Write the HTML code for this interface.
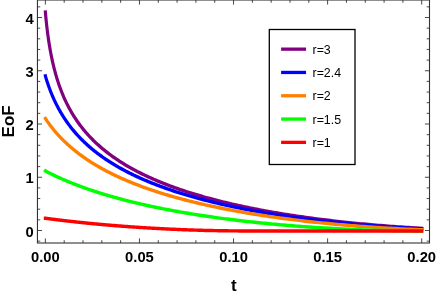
<!DOCTYPE html>
<html><head><meta charset="utf-8"><title>EoF</title>
<style>
html,body{margin:0;padding:0;background:#fff;}
body{width:436px;height:292px;overflow:hidden;}
svg{display:block;font-family:"Liberation Sans",sans-serif;}
text{-webkit-font-smoothing:antialiased;}
body{will-change:transform;}
</style></head><body>
<svg width="436" height="292" viewBox="0 0 436 292">
<rect width="436" height="292" fill="#fff"/>
<g transform="scale(0.92,1)" fill="none" stroke-width="3.45" stroke-linecap="square" stroke-linejoin="round">
<path d="M49.32,12.12 L49.33,12.31 L49.38,12.79 L49.45,13.50 L49.54,14.43 L49.65,15.53 L49.78,16.80 L49.93,18.22 L50.10,19.76 L50.28,21.42 L50.48,23.17 L50.70,25.01 L50.94,26.91 L51.19,28.88 L51.46,30.89 L51.74,32.94 L52.04,35.02 L52.35,37.12 L52.68,39.24 L53.03,41.37 L53.39,43.50 L53.76,45.63 L54.15,47.76 L54.55,49.88 L54.97,51.99 L55.40,54.08 L55.84,56.16 L56.30,58.22 L56.78,60.26 L57.26,62.29 L57.76,64.29 L58.28,66.27 L58.80,68.23 L59.34,70.16 L59.90,72.07 L60.46,73.96 L61.04,75.82 L61.64,77.66 L62.24,79.48 L62.86,81.27 L63.49,83.04 L64.14,84.78 L64.79,86.50 L65.46,88.20 L66.14,89.87 L66.84,91.53 L67.55,93.16 L68.27,94.77 L69.00,96.35 L69.74,97.92 L70.50,99.47 L71.27,100.99 L72.05,102.49 L72.84,103.98 L73.65,105.44 L74.46,106.89 L75.29,108.32 L76.13,109.73 L76.99,111.12 L77.85,112.49 L78.73,113.85 L79.62,115.19 L80.52,116.51 L81.43,117.81 L82.35,119.10 L83.29,120.38 L84.23,121.63 L85.19,122.88 L86.16,124.11 L87.14,125.32 L88.13,126.52 L89.14,127.70 L90.15,128.87 L91.18,130.03 L92.22,131.18 L93.27,132.31 L94.33,133.43 L95.40,134.53 L96.48,135.62 L97.57,136.71 L98.68,137.77 L99.80,138.83 L100.92,139.88 L102.06,140.91 L103.21,141.94 L104.37,142.95 L105.54,143.95 L106.73,144.94 L107.92,145.92 L109.12,146.89 L110.34,147.85 L111.56,148.80 L112.80,149.74 L114.05,150.67 L115.31,151.60 L116.58,152.51 L117.85,153.41 L119.15,154.31 L120.45,155.19 L121.76,156.07 L123.08,156.93 L124.41,157.79 L125.76,158.65 L127.11,159.49 L128.48,160.32 L129.85,161.15 L131.24,161.97 L132.63,162.78 L134.04,163.58 L135.46,164.38 L136.89,165.17 L138.32,165.95 L139.77,166.72 L141.23,167.49 L142.70,168.25 L144.18,169.00 L145.67,169.75 L147.17,170.49 L148.68,171.22 L150.20,171.94 L151.73,172.66 L153.28,173.38 L154.83,174.08 L156.39,174.78 L157.96,175.48 L159.54,176.16 L161.14,176.84 L162.74,177.52 L164.35,178.19 L165.97,178.85 L167.61,179.51 L169.25,180.16 L170.90,180.81 L172.56,181.45 L174.24,182.08 L175.92,182.71 L177.61,183.34 L179.32,183.96 L181.03,184.57 L182.75,185.18 L184.49,185.78 L186.23,186.38 L187.98,186.97 L189.74,187.56 L191.52,188.14 L193.30,188.71 L195.09,189.29 L196.89,189.85 L198.71,190.42 L200.53,190.97 L202.36,191.53 L204.20,192.07 L206.05,192.62 L207.91,193.16 L209.78,193.69 L211.66,194.22 L213.55,194.74 L215.45,195.26 L217.36,195.78 L219.28,196.29 L221.21,196.80 L223.15,197.30 L225.10,197.80 L227.06,198.29 L229.03,198.78 L231.00,199.27 L232.99,199.75 L234.99,200.23 L236.99,200.70 L239.01,201.17 L241.03,201.63 L243.07,202.09 L245.11,202.55 L247.17,203.00 L249.23,203.45 L251.30,203.89 L253.38,204.33 L255.48,204.77 L257.58,205.20 L259.69,205.63 L261.81,206.05 L263.94,206.47 L266.08,206.89 L268.22,207.30 L270.38,207.71 L272.55,208.12 L274.73,208.52 L276.91,208.92 L279.11,209.31 L281.31,209.70 L283.53,210.09 L285.75,210.47 L287.98,210.85 L290.23,211.23 L292.48,211.60 L294.74,211.97 L297.01,212.33 L299.29,212.69 L301.58,213.05 L303.87,213.40 L306.18,213.75 L308.50,214.10 L310.82,214.44 L313.16,214.78 L315.50,215.12 L317.86,215.45 L320.22,215.78 L322.59,216.11 L324.97,216.43 L327.36,216.75 L329.76,217.07 L332.17,217.38 L334.59,217.69 L337.01,217.99 L339.45,218.29 L341.89,218.59 L344.35,218.89 L346.81,219.18 L349.28,219.47 L351.76,219.75 L354.25,220.03 L356.75,220.31 L359.26,220.58 L361.78,220.86 L364.31,221.12 L366.84,221.39 L369.39,221.65 L371.94,221.91 L374.50,222.16 L377.08,222.41 L379.66,222.66 L382.25,222.90 L384.85,223.14 L387.45,223.38 L390.07,223.62 L392.70,223.85 L395.33,224.07 L397.97,224.30 L400.63,224.52 L403.29,224.74 L405.96,224.95 L408.64,225.16 L411.33,225.37 L414.02,225.57 L416.73,225.77 L419.44,225.97 L422.17,226.16 L424.90,226.35 L427.64,226.54 L430.39,226.72 L433.15,226.90 L435.92,227.07 L438.70,227.25 L441.48,227.42 L444.28,227.58 L447.08,227.74 L449.89,227.90 L452.71,228.06 L455.54,228.21 L458.38,228.35" stroke="#800080"/>
<path d="M49.32,75.99 L49.33,76.05 L49.38,76.20 L49.45,76.41 L49.54,76.70 L49.65,77.04 L49.78,77.44 L49.93,77.89 L50.10,78.40 L50.28,78.95 L50.48,79.55 L50.70,80.19 L50.94,80.87 L51.19,81.59 L51.46,82.34 L51.74,83.12 L52.04,83.94 L52.35,84.78 L52.68,85.65 L53.03,86.54 L53.39,87.46 L53.76,88.40 L54.15,89.35 L54.55,90.33 L54.97,91.32 L55.40,92.32 L55.84,93.34 L56.30,94.37 L56.78,95.40 L57.26,96.45 L57.76,97.51 L58.28,98.57 L58.80,99.64 L59.34,100.71 L59.90,101.79 L60.46,102.87 L61.04,103.95 L61.64,105.03 L62.24,106.12 L62.86,107.20 L63.49,108.29 L64.14,109.37 L64.79,110.45 L65.46,111.53 L66.14,112.61 L66.84,113.68 L67.55,114.76 L68.27,115.82 L69.00,116.89 L69.74,117.95 L70.50,119.01 L71.27,120.06 L72.05,121.10 L72.84,122.15 L73.65,123.18 L74.46,124.21 L75.29,125.24 L76.13,126.26 L76.99,127.27 L77.85,128.28 L78.73,129.28 L79.62,130.27 L80.52,131.26 L81.43,132.25 L82.35,133.22 L83.29,134.19 L84.23,135.16 L85.19,136.11 L86.16,137.06 L87.14,138.01 L88.13,138.94 L89.14,139.87 L90.15,140.80 L91.18,141.71 L92.22,142.62 L93.27,143.53 L94.33,144.43 L95.40,145.32 L96.48,146.20 L97.57,147.08 L98.68,147.95 L99.80,148.81 L100.92,149.67 L102.06,150.52 L103.21,151.37 L104.37,152.21 L105.54,153.04 L106.73,153.87 L107.92,154.68 L109.12,155.50 L110.34,156.31 L111.56,157.11 L112.80,157.90 L114.05,158.69 L115.31,159.47 L116.58,160.25 L117.85,161.02 L119.15,161.79 L120.45,162.55 L121.76,163.30 L123.08,164.05 L124.41,164.79 L125.76,165.52 L127.11,166.25 L128.48,166.98 L129.85,167.70 L131.24,168.41 L132.63,169.12 L134.04,169.82 L135.46,170.52 L136.89,171.21 L138.32,171.90 L139.77,172.58 L141.23,173.26 L142.70,173.93 L144.18,174.59 L145.67,175.25 L147.17,175.91 L148.68,176.56 L150.20,177.20 L151.73,177.84 L153.28,178.48 L154.83,179.11 L156.39,179.74 L157.96,180.36 L159.54,180.97 L161.14,181.58 L162.74,182.19 L164.35,182.79 L165.97,183.39 L167.61,183.98 L169.25,184.57 L170.90,185.15 L172.56,185.73 L174.24,186.31 L175.92,186.87 L177.61,187.44 L179.32,188.00 L181.03,188.56 L182.75,189.11 L184.49,189.66 L186.23,190.20 L187.98,190.74 L189.74,191.28 L191.52,191.81 L193.30,192.33 L195.09,192.86 L196.89,193.37 L198.71,193.89 L200.53,194.40 L202.36,194.91 L204.20,195.41 L206.05,195.91 L207.91,196.40 L209.78,196.89 L211.66,197.38 L213.55,197.86 L215.45,198.34 L217.36,198.81 L219.28,199.28 L221.21,199.75 L223.15,200.21 L225.10,200.67 L227.06,201.13 L229.03,201.58 L231.00,202.03 L232.99,202.47 L234.99,202.91 L236.99,203.35 L239.01,203.78 L241.03,204.21 L243.07,204.64 L245.11,205.06 L247.17,205.48 L249.23,205.89 L251.30,206.31 L253.38,206.71 L255.48,207.12 L257.58,207.52 L259.69,207.92 L261.81,208.31 L263.94,208.70 L266.08,209.09 L268.22,209.47 L270.38,209.85 L272.55,210.23 L274.73,210.60 L276.91,210.97 L279.11,211.34 L281.31,211.70 L283.53,212.06 L285.75,212.41 L287.98,212.77 L290.23,213.12 L292.48,213.46 L294.74,213.81 L297.01,214.14 L299.29,214.48 L301.58,214.81 L303.87,215.14 L306.18,215.47 L308.50,215.79 L310.82,216.11 L313.16,216.43 L315.50,216.74 L317.86,217.05 L320.22,217.36 L322.59,217.66 L324.97,217.96 L327.36,218.26 L329.76,218.55 L332.17,218.84 L334.59,219.13 L337.01,219.41 L339.45,219.69 L341.89,219.97 L344.35,220.24 L346.81,220.51 L349.28,220.78 L351.76,221.04 L354.25,221.30 L356.75,221.56 L359.26,221.82 L361.78,222.07 L364.31,222.32 L366.84,222.56 L369.39,222.80 L371.94,223.04 L374.50,223.28 L377.08,223.51 L379.66,223.74 L382.25,223.96 L384.85,224.18 L387.45,224.40 L390.07,224.62 L392.70,224.83 L395.33,225.04 L397.97,225.25 L400.63,225.45 L403.29,225.65 L405.96,225.84 L408.64,226.04 L411.33,226.23 L414.02,226.41 L416.73,226.59 L419.44,226.77 L422.17,226.95 L424.90,227.12 L427.64,227.29 L430.39,227.46 L433.15,227.62 L435.92,227.78 L438.70,227.93 L441.48,228.09 L444.28,228.23 L447.08,228.38 L449.89,228.52 L452.71,228.66 L455.54,228.79 L458.38,228.92" stroke="#0000ff"/>
<path d="M49.32,118.50 L49.33,118.52 L49.38,118.59 L49.45,118.68 L49.54,118.81 L49.65,118.96 L49.78,119.14 L49.93,119.35 L50.10,119.58 L50.28,119.83 L50.48,120.10 L50.70,120.40 L50.94,120.71 L51.19,121.05 L51.46,121.40 L51.74,121.78 L52.04,122.16 L52.35,122.57 L52.68,122.99 L53.03,123.43 L53.39,123.89 L53.76,124.35 L54.15,124.84 L54.55,125.33 L54.97,125.84 L55.40,126.36 L55.84,126.89 L56.30,127.43 L56.78,127.98 L57.26,128.54 L57.76,129.11 L58.28,129.69 L58.80,130.28 L59.34,130.87 L59.90,131.48 L60.46,132.09 L61.04,132.71 L61.64,133.33 L62.24,133.96 L62.86,134.59 L63.49,135.23 L64.14,135.88 L64.79,136.53 L65.46,137.18 L66.14,137.83 L66.84,138.49 L67.55,139.16 L68.27,139.82 L69.00,140.49 L69.74,141.16 L70.50,141.83 L71.27,142.51 L72.05,143.18 L72.84,143.86 L73.65,144.54 L74.46,145.22 L75.29,145.90 L76.13,146.58 L76.99,147.26 L77.85,147.94 L78.73,148.62 L79.62,149.30 L80.52,149.98 L81.43,150.66 L82.35,151.34 L83.29,152.01 L84.23,152.69 L85.19,153.36 L86.16,154.04 L87.14,154.71 L88.13,155.38 L89.14,156.05 L90.15,156.72 L91.18,157.39 L92.22,158.05 L93.27,158.71 L94.33,159.37 L95.40,160.03 L96.48,160.69 L97.57,161.34 L98.68,161.99 L99.80,162.64 L100.92,163.29 L102.06,163.93 L103.21,164.57 L104.37,165.21 L105.54,165.85 L106.73,166.48 L107.92,167.12 L109.12,167.74 L110.34,168.37 L111.56,168.99 L112.80,169.61 L114.05,170.23 L115.31,170.84 L116.58,171.45 L117.85,172.06 L119.15,172.67 L120.45,173.27 L121.76,173.87 L123.08,174.47 L124.41,175.06 L125.76,175.65 L127.11,176.23 L128.48,176.82 L129.85,177.40 L131.24,177.98 L132.63,178.55 L134.04,179.12 L135.46,179.69 L136.89,180.25 L138.32,180.82 L139.77,181.37 L141.23,181.93 L142.70,182.48 L144.18,183.03 L145.67,183.58 L147.17,184.12 L148.68,184.66 L150.20,185.19 L151.73,185.73 L153.28,186.26 L154.83,186.78 L156.39,187.30 L157.96,187.82 L159.54,188.34 L161.14,188.85 L162.74,189.36 L164.35,189.87 L165.97,190.38 L167.61,190.88 L169.25,191.37 L170.90,191.87 L172.56,192.36 L174.24,192.85 L175.92,193.33 L177.61,193.81 L179.32,194.29 L181.03,194.76 L182.75,195.24 L184.49,195.71 L186.23,196.17 L187.98,196.63 L189.74,197.09 L191.52,197.55 L193.30,198.00 L195.09,198.45 L196.89,198.90 L198.71,199.34 L200.53,199.78 L202.36,200.22 L204.20,200.65 L206.05,201.08 L207.91,201.51 L209.78,201.94 L211.66,202.36 L213.55,202.78 L215.45,203.19 L217.36,203.61 L219.28,204.01 L221.21,204.42 L223.15,204.82 L225.10,205.22 L227.06,205.62 L229.03,206.02 L231.00,206.41 L232.99,206.80 L234.99,207.18 L236.99,207.56 L239.01,207.94 L241.03,208.32 L243.07,208.69 L245.11,209.06 L247.17,209.43 L249.23,209.79 L251.30,210.15 L253.38,210.51 L255.48,210.87 L257.58,211.22 L259.69,211.57 L261.81,211.91 L263.94,212.26 L266.08,212.60 L268.22,212.93 L270.38,213.27 L272.55,213.60 L274.73,213.93 L276.91,214.25 L279.11,214.57 L281.31,214.89 L283.53,215.21 L285.75,215.52 L287.98,215.83 L290.23,216.14 L292.48,216.45 L294.74,216.75 L297.01,217.05 L299.29,217.34 L301.58,217.63 L303.87,217.92 L306.18,218.21 L308.50,218.49 L310.82,218.78 L313.16,219.05 L315.50,219.33 L317.86,219.60 L320.22,219.87 L322.59,220.14 L324.97,220.40 L327.36,220.66 L329.76,220.92 L332.17,221.17 L334.59,221.42 L337.01,221.67 L339.45,221.92 L341.89,222.16 L344.35,222.40 L346.81,222.64 L349.28,222.87 L351.76,223.10 L354.25,223.33 L356.75,223.55 L359.26,223.77 L361.78,223.99 L364.31,224.21 L366.84,224.42 L369.39,224.63 L371.94,224.84 L374.50,225.04 L377.08,225.24 L379.66,225.44 L382.25,225.63 L384.85,225.82 L387.45,226.01 L390.07,226.19 L392.70,226.38 L395.33,226.56 L397.97,226.73 L400.63,226.90 L403.29,227.07 L405.96,227.24 L408.64,227.40 L411.33,227.56 L414.02,227.72 L416.73,227.87 L419.44,228.02 L422.17,228.17 L424.90,228.31 L427.64,228.45 L430.39,228.59 L433.15,228.72 L435.92,228.85 L438.70,228.97 L441.48,229.10 L444.28,229.22 L447.08,229.33 L449.89,229.44 L452.71,229.55 L455.54,229.66 L458.38,229.76" stroke="#ff8000"/>
<path d="M49.32,170.97 L49.33,170.98 L49.38,171.00 L49.45,171.03 L49.54,171.08 L49.65,171.13 L49.78,171.20 L49.93,171.27 L50.10,171.35 L50.28,171.44 L50.48,171.53 L50.70,171.64 L50.94,171.75 L51.19,171.87 L51.46,171.99 L51.74,172.13 L52.04,172.27 L52.35,172.42 L52.68,172.57 L53.03,172.73 L53.39,172.90 L53.76,173.07 L54.15,173.25 L54.55,173.43 L54.97,173.62 L55.40,173.82 L55.84,174.02 L56.30,174.23 L56.78,174.44 L57.26,174.66 L57.76,174.88 L58.28,175.11 L58.80,175.34 L59.34,175.58 L59.90,175.82 L60.46,176.06 L61.04,176.31 L61.64,176.57 L62.24,176.83 L62.86,177.09 L63.49,177.35 L64.14,177.62 L64.79,177.90 L65.46,178.17 L66.14,178.45 L66.84,178.74 L67.55,179.02 L68.27,179.31 L69.00,179.61 L69.74,179.90 L70.50,180.20 L71.27,180.50 L72.05,180.81 L72.84,181.11 L73.65,181.42 L74.46,181.73 L75.29,182.05 L76.13,182.36 L76.99,182.68 L77.85,183.00 L78.73,183.32 L79.62,183.65 L80.52,183.97 L81.43,184.30 L82.35,184.63 L83.29,184.96 L84.23,185.29 L85.19,185.63 L86.16,185.96 L87.14,186.30 L88.13,186.63 L89.14,186.97 L90.15,187.31 L91.18,187.65 L92.22,187.99 L93.27,188.33 L94.33,188.68 L95.40,189.02 L96.48,189.36 L97.57,189.71 L98.68,190.05 L99.80,190.40 L100.92,190.74 L102.06,191.09 L103.21,191.44 L104.37,191.78 L105.54,192.13 L106.73,192.48 L107.92,192.83 L109.12,193.17 L110.34,193.52 L111.56,193.87 L112.80,194.22 L114.05,194.56 L115.31,194.91 L116.58,195.26 L117.85,195.60 L119.15,195.95 L120.45,196.30 L121.76,196.64 L123.08,196.99 L124.41,197.33 L125.76,197.67 L127.11,198.02 L128.48,198.36 L129.85,198.70 L131.24,199.04 L132.63,199.39 L134.04,199.73 L135.46,200.06 L136.89,200.40 L138.32,200.74 L139.77,201.08 L141.23,201.41 L142.70,201.75 L144.18,202.08 L145.67,202.42 L147.17,202.75 L148.68,203.08 L150.20,203.41 L151.73,203.74 L153.28,204.07 L154.83,204.39 L156.39,204.72 L157.96,205.04 L159.54,205.37 L161.14,205.69 L162.74,206.01 L164.35,206.33 L165.97,206.65 L167.61,206.96 L169.25,207.28 L170.90,207.59 L172.56,207.91 L174.24,208.22 L175.92,208.53 L177.61,208.84 L179.32,209.14 L181.03,209.45 L182.75,209.75 L184.49,210.05 L186.23,210.36 L187.98,210.66 L189.74,210.95 L191.52,211.25 L193.30,211.54 L195.09,211.84 L196.89,212.13 L198.71,212.42 L200.53,212.71 L202.36,212.99 L204.20,213.28 L206.05,213.56 L207.91,213.84 L209.78,214.12 L211.66,214.40 L213.55,214.68 L215.45,214.95 L217.36,215.22 L219.28,215.49 L221.21,215.76 L223.15,216.03 L225.10,216.29 L227.06,216.56 L229.03,216.82 L231.00,217.08 L232.99,217.34 L234.99,217.59 L236.99,217.85 L239.01,218.10 L241.03,218.35 L243.07,218.59 L245.11,218.84 L247.17,219.08 L249.23,219.33 L251.30,219.57 L253.38,219.80 L255.48,220.04 L257.58,220.27 L259.69,220.51 L261.81,220.74 L263.94,220.96 L266.08,221.19 L268.22,221.41 L270.38,221.63 L272.55,221.85 L274.73,222.07 L276.91,222.28 L279.11,222.50 L281.31,222.71 L283.53,222.92 L285.75,223.12 L287.98,223.33 L290.23,223.53 L292.48,223.73 L294.74,223.92 L297.01,224.12 L299.29,224.31 L301.58,224.50 L303.87,224.69 L306.18,224.88 L308.50,225.06 L310.82,225.24 L313.16,225.42 L315.50,225.59 L317.86,225.77 L320.22,225.94 L322.59,226.11 L324.97,226.28 L327.36,226.44 L329.76,226.60 L332.17,226.76 L334.59,226.92 L337.01,227.07 L339.45,227.22 L341.89,227.37 L344.35,227.52 L346.81,227.66 L349.28,227.80 L351.76,227.94 L354.25,228.08 L356.75,228.21 L359.26,228.34 L361.78,228.47 L364.31,228.59 L366.84,228.72 L369.39,228.84 L371.94,228.95 L374.50,229.07 L377.08,229.18 L379.66,229.28 L382.25,229.39 L384.85,229.49 L387.45,229.59 L390.07,229.69 L392.70,229.78 L395.33,229.87 L397.97,229.96 L400.63,230.04 L403.29,230.12 L405.96,230.20 L408.64,230.27 L411.33,230.34 L414.02,230.41 L416.73,230.47 L419.44,230.53 L422.17,230.58 L424.90,230.64 L427.64,230.68 L430.39,230.73 L433.15,230.77 L435.92,230.80 L438.70,230.83 L441.48,230.86 L444.28,230.88 L447.08,230.90 L449.89,230.91 L452.71,230.91 L455.54,230.91 L458.38,230.91" stroke="#00ff00"/>
<path d="M49.32,218.25 L49.33,218.25 L49.38,218.25 L49.45,218.26 L49.54,218.27 L49.65,218.29 L49.78,218.30 L49.93,218.32 L50.10,218.34 L50.28,218.37 L50.48,218.39 L50.70,218.42 L50.94,218.45 L51.19,218.48 L51.46,218.51 L51.74,218.54 L52.04,218.58 L52.35,218.62 L52.68,218.66 L53.03,218.70 L53.39,218.74 L53.76,218.79 L54.15,218.83 L54.55,218.88 L54.97,218.93 L55.40,218.98 L55.84,219.04 L56.30,219.09 L56.78,219.15 L57.26,219.20 L57.76,219.26 L58.28,219.32 L58.80,219.38 L59.34,219.44 L59.90,219.51 L60.46,219.57 L61.04,219.64 L61.64,219.71 L62.24,219.78 L62.86,219.85 L63.49,219.92 L64.14,219.99 L64.79,220.06 L65.46,220.14 L66.14,220.22 L66.84,220.29 L67.55,220.37 L68.27,220.45 L69.00,220.53 L69.74,220.61 L70.50,220.69 L71.27,220.77 L72.05,220.86 L72.84,220.94 L73.65,221.03 L74.46,221.11 L75.29,221.20 L76.13,221.29 L76.99,221.38 L77.85,221.47 L78.73,221.56 L79.62,221.65 L80.52,221.74 L81.43,221.83 L82.35,221.92 L83.29,222.02 L84.23,222.11 L85.19,222.20 L86.16,222.30 L87.14,222.39 L88.13,222.49 L89.14,222.59 L90.15,222.68 L91.18,222.78 L92.22,222.88 L93.27,222.98 L94.33,223.07 L95.40,223.17 L96.48,223.27 L97.57,223.37 L98.68,223.47 L99.80,223.57 L100.92,223.67 L102.06,223.77 L103.21,223.87 L104.37,223.97 L105.54,224.07 L106.73,224.17 L107.92,224.27 L109.12,224.37 L110.34,224.47 L111.56,224.57 L112.80,224.68 L114.05,224.78 L115.31,224.88 L116.58,224.98 L117.85,225.08 L119.15,225.18 L120.45,225.28 L121.76,225.38 L123.08,225.48 L124.41,225.58 L125.76,225.68 L127.11,225.78 L128.48,225.88 L129.85,225.98 L131.24,226.08 L132.63,226.18 L134.04,226.27 L135.46,226.37 L136.89,226.47 L138.32,226.57 L139.77,226.66 L141.23,226.76 L142.70,226.85 L144.18,226.95 L145.67,227.04 L147.17,227.14 L148.68,227.23 L150.20,227.32 L151.73,227.42 L153.28,227.51 L154.83,227.60 L156.39,227.69 L157.96,227.78 L159.54,227.87 L161.14,227.96 L162.74,228.04 L164.35,228.13 L165.97,228.22 L167.61,228.30 L169.25,228.39 L170.90,228.47 L172.56,228.55 L174.24,228.63 L175.92,228.72 L177.61,228.79 L179.32,228.87 L181.03,228.95 L182.75,229.03 L184.49,229.10 L186.23,229.18 L187.98,229.25 L189.74,229.33 L191.52,229.40 L193.30,229.47 L195.09,229.54 L196.89,229.60 L198.71,229.67 L200.53,229.74 L202.36,229.80 L204.20,229.86 L206.05,229.92 L207.91,229.98 L209.78,230.04 L211.66,230.10 L213.55,230.15 L215.45,230.21 L217.36,230.26 L219.28,230.31 L221.21,230.36 L223.15,230.41 L225.10,230.45 L227.06,230.50 L229.03,230.54 L231.00,230.58 L232.99,230.62 L234.99,230.65 L236.99,230.69 L239.01,230.72 L241.03,230.75 L243.07,230.78 L245.11,230.80 L247.17,230.83 L249.23,230.85 L251.30,230.87 L253.38,230.88 L255.48,230.89 L257.58,230.90 L259.69,230.91 L261.81,230.91 L263.94,230.91 L266.08,230.91 L268.22,230.91 L270.38,230.91 L272.55,230.91 L274.73,230.91 L276.91,230.91 L279.11,230.91 L281.31,230.91 L283.53,230.91 L285.75,230.91 L287.98,230.91 L290.23,230.91 L292.48,230.91 L294.74,230.91 L297.01,230.91 L299.29,230.91 L301.58,230.91 L303.87,230.91 L306.18,230.91 L308.50,230.91 L310.82,230.91 L313.16,230.91 L315.50,230.91 L317.86,230.91 L320.22,230.91 L322.59,230.91 L324.97,230.91 L327.36,230.91 L329.76,230.91 L332.17,230.91 L334.59,230.91 L337.01,230.91 L339.45,230.91 L341.89,230.91 L344.35,230.91 L346.81,230.91 L349.28,230.91 L351.76,230.91 L354.25,230.91 L356.75,230.91 L359.26,230.91 L361.78,230.91 L364.31,230.91 L366.84,230.91 L369.39,230.91 L371.94,230.91 L374.50,230.91 L377.08,230.91 L379.66,230.91 L382.25,230.91 L384.85,230.91 L387.45,230.91 L390.07,230.91 L392.70,230.91 L395.33,230.91 L397.97,230.91 L400.63,230.91 L403.29,230.91 L405.96,230.91 L408.64,230.91 L411.33,230.91 L414.02,230.91 L416.73,230.91 L419.44,230.91 L422.17,230.91 L424.90,230.91 L427.64,230.91 L430.39,230.91 L433.15,230.91 L435.92,230.91 L438.70,230.91 L441.48,230.91 L444.28,230.91 L447.08,230.91 L449.89,230.91 L452.71,230.91 L455.54,230.91 L458.38,230.91" stroke="#ff0000"/>
</g>
<rect x="37.45" y="0.0" width="392.05" height="243.0" fill="none" stroke="#333" stroke-width="1.1"/>
<path d="M45.37,243.0 v-4.6 M45.37,0.0 v4.6 M64.19,243.0 v-2.8 M64.19,0.0 v2.8 M83.00,243.0 v-2.8 M83.00,0.0 v2.8 M101.82,243.0 v-2.8 M101.82,0.0 v2.8 M120.64,243.0 v-2.8 M120.64,0.0 v2.8 M139.46,243.0 v-4.6 M139.46,0.0 v4.6 M158.27,243.0 v-2.8 M158.27,0.0 v2.8 M177.09,243.0 v-2.8 M177.09,0.0 v2.8 M195.91,243.0 v-2.8 M195.91,0.0 v2.8 M214.72,243.0 v-2.8 M214.72,0.0 v2.8 M233.54,243.0 v-4.6 M233.54,0.0 v4.6 M252.36,243.0 v-2.8 M252.36,0.0 v2.8 M271.17,243.0 v-2.8 M271.17,0.0 v2.8 M289.99,243.0 v-2.8 M289.99,0.0 v2.8 M308.81,243.0 v-2.8 M308.81,0.0 v2.8 M327.62,243.0 v-4.6 M327.62,0.0 v4.6 M346.44,243.0 v-2.8 M346.44,0.0 v2.8 M365.26,243.0 v-2.8 M365.26,0.0 v2.8 M384.08,243.0 v-2.8 M384.08,0.0 v2.8 M402.89,243.0 v-2.8 M402.89,0.0 v2.8 M421.71,243.0 v-4.6 M421.71,0.0 v4.6 M37.45,241.15 h2.8 M429.5,241.15 h-2.8 M37.45,230.50 h4.6 M429.5,230.50 h-4.6 M37.45,219.85 h2.8 M429.5,219.85 h-2.8 M37.45,209.20 h2.8 M429.5,209.20 h-2.8 M37.45,198.55 h2.8 M429.5,198.55 h-2.8 M37.45,187.90 h2.8 M429.5,187.90 h-2.8 M37.45,177.25 h4.6 M429.5,177.25 h-4.6 M37.45,166.60 h2.8 M429.5,166.60 h-2.8 M37.45,155.95 h2.8 M429.5,155.95 h-2.8 M37.45,145.30 h2.8 M429.5,145.30 h-2.8 M37.45,134.65 h2.8 M429.5,134.65 h-2.8 M37.45,124.00 h4.6 M429.5,124.00 h-4.6 M37.45,113.35 h2.8 M429.5,113.35 h-2.8 M37.45,102.70 h2.8 M429.5,102.70 h-2.8 M37.45,92.05 h2.8 M429.5,92.05 h-2.8 M37.45,81.40 h2.8 M429.5,81.40 h-2.8 M37.45,70.75 h4.6 M429.5,70.75 h-4.6 M37.45,60.10 h2.8 M429.5,60.10 h-2.8 M37.45,49.45 h2.8 M429.5,49.45 h-2.8 M37.45,38.80 h2.8 M429.5,38.80 h-2.8 M37.45,28.15 h2.8 M429.5,28.15 h-2.8 M37.45,17.50 h4.6 M429.5,17.50 h-4.6 M37.45,6.85 h2.8 M429.5,6.85 h-2.8" stroke="#333" stroke-width="0.9" fill="none"/>
<g font-size="14.75" font-weight="bold" fill="#000" opacity="0.999">
<text x="45.37" y="262.0" text-anchor="middle">0.00</text>
<text x="139.46" y="262.0" text-anchor="middle">0.05</text>
<text x="233.54" y="262.0" text-anchor="middle">0.10</text>
<text x="327.62" y="262.0" text-anchor="middle">0.15</text>
<text x="421.71" y="262.0" text-anchor="middle">0.20</text>
<text x="33.6" y="236.60" text-anchor="end">0</text>
<text x="33.6" y="183.35" text-anchor="end">1</text>
<text x="33.6" y="130.10" text-anchor="end">2</text>
<text x="33.6" y="76.85" text-anchor="end">3</text>
<text x="33.6" y="23.60" text-anchor="end">4</text>
</g>
<text x="233.9" y="290.5" text-anchor="middle" font-size="17" font-weight="bold">t</text>
<text transform="translate(13.9,121.4) rotate(-90)" text-anchor="middle" font-size="17" font-weight="bold">EoF</text>
<rect x="269.3" y="29.5" width="85.7" height="135" fill="#fff" stroke="#000" stroke-width="1.3"/>
<path d="M281.1,49.15 H306.05" stroke="#800080" stroke-width="3.3" fill="none"/>
<text x="312.5" y="53.70" font-size="12.4" font-weight="normal">r=3</text>
<path d="M281.1,72.45 H306.05" stroke="#0000ff" stroke-width="3.3" fill="none"/>
<text x="312.5" y="77.00" font-size="12.4" font-weight="normal">r=2.4</text>
<path d="M281.1,95.75 H306.05" stroke="#ff8000" stroke-width="3.3" fill="none"/>
<text x="312.5" y="100.30" font-size="12.4" font-weight="normal">r=2</text>
<path d="M281.1,119.05 H306.05" stroke="#00ff00" stroke-width="3.3" fill="none"/>
<text x="312.5" y="123.60" font-size="12.4" font-weight="normal">r=1.5</text>
<path d="M281.1,142.35 H306.05" stroke="#ff0000" stroke-width="3.3" fill="none"/>
<text x="312.5" y="146.90" font-size="12.4" font-weight="normal">r=1</text>
</svg>
</body></html>
